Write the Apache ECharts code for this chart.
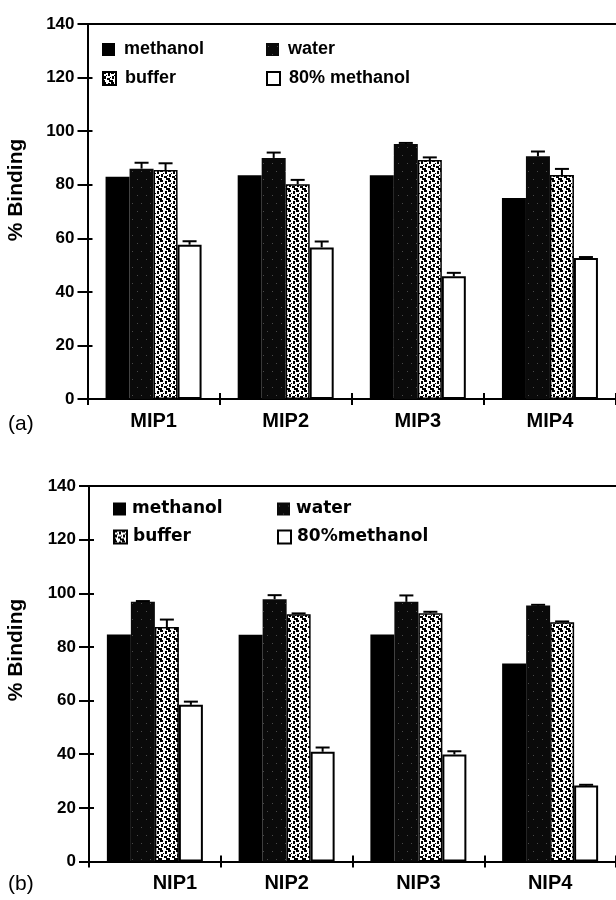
<!DOCTYPE html>
<html>
<head>
<meta charset="utf-8">
<script src="https://cdn.jsdelivr.net/npm/echarts@6/dist/echarts.min.js"></script>
<style>
  html, body { margin: 0; padding: 0; background: #fff; }
  #chart { width: 616px; height: 900px; }
</style>
</head>
<body>
<div id="chart"></div>
<script>
// ---- data: panel (a), imprinted polymers ----
const categoriesA = ['MIP1', 'MIP2', 'MIP3', 'MIP4'];
const methanolA = [83, 83.5, 83.5, 75];
const waterA = [86, 90, 95.2, 90.6];
const bufferA = [85.5, 80.2, 89.2, 83.6];
const methanol80A = [57.6, 56.6, 45.8, 52.6];
const errWaterA = [2.2, 2.0, 0.4, 1.8];
const errBufferA = [2.5, 1.6, 1.0, 2.3];
const errMethanol80A = [1.3, 2.2, 1.3, 0.4];

// ---- data: panel (b), non-imprinted polymers ----
const categoriesB = ['NIP1', 'NIP2', 'NIP3', 'NIP4'];
const methanolB = [84.6, 84.5, 84.6, 73.8];
const waterB = [96.8, 97.8, 96.8, 95.4];
const bufferB = [87.4, 92.2, 92.6, 89.2];
const methanol80B = [58.4, 40.9, 39.9, 28.3];
const errWaterB = [0.3, 1.5, 2.4, 0.3];
const errBufferB = [2.8, 0.3, 0.5, 0.3];
const errMethanol80B = [1.2, 1.6, 1.2, 0.3];

const yTicks = { min: 0, max: 140, interval: 20 };

const FONT = '"Liberation Sans", Arial, Helvetica, sans-serif';
const WIDE_FONT = '"DejaVu Sans", Verdana, sans-serif';
const BAR_W = 24;

// stippled fills for the printed-style bars
function tile(w, h, bg, fg, rects) {
  const c = document.createElement('canvas');
  c.width = w; c.height = h;
  const ctx = c.getContext('2d');
  ctx.fillStyle = bg; ctx.fillRect(0, 0, w, h);
  ctx.fillStyle = fg;
  rects.forEach(r => ctx.fillRect(r[0], r[1], r[2], r[3]));
  return c;
}
const bufferFill = {
  image: tile(8, 10, '#ffffff', '#000000', [
    [0, 0, 3, 2], [5, 1, 2, 3], [1, 4, 2, 3], [4, 6, 3, 2],
    [0, 8, 2, 2], [6, 8, 2, 2], [3, 3, 1, 1], [7, 5, 1, 1]
  ]),
  repeat: 'repeat'
};
const waterFill = {
  image: tile(9, 16, '#0a0a0a', '#4a4a4a', [[2, 3, 1, 1], [6, 11, 1, 1]]),
  repeat: 'repeat'
};

function axesFor(g, cats, labelCfg) {
  const line = { lineStyle: { color: '#000', width: 2 } };
  const x = [
    { gridIndex: g, type: 'category', data: cats, position: 'bottom',
      axisLine: { show: true, ...line }, axisTick: { show: true, length: 6, ...line },
      axisLabel: { interval: 0, color: '#000', fontFamily: FONT, fontWeight: 'bold', fontSize: 20, margin: 12, ...labelCfg } },
    { gridIndex: g, type: 'category', data: cats, position: 'bottom',
      axisLine: { show: false }, axisTick: { show: true, inside: true, length: 6, ...line },
      axisLabel: { show: false } },
    { gridIndex: g, type: 'category', data: cats, position: 'top',
      axisLine: { show: true, ...line }, axisTick: { show: false }, axisLabel: { show: false } }
  ];
  const y = [
    { gridIndex: g, type: 'value', ...yTicks, position: 'left',
      axisLine: { show: true, ...line }, axisTick: { show: true, length: 10, ...line },
      splitLine: { show: false },
      axisLabel: { color: '#000', fontFamily: FONT, fontWeight: 'bold', fontSize: 17, margin: 13 } },
    { gridIndex: g, type: 'value', ...yTicks, position: 'left',
      axisLine: { show: false }, axisTick: { show: true, inside: true, length: 5, ...line },
      splitLine: { show: false }, axisLabel: { show: false } }
  ];
  return { x, y };
}

function barSeries(g, name, data, style) {
  return {
    name, type: 'bar', xAxisIndex: g * 3, yAxisIndex: g * 2, data,
    barWidth: BAR_W, barGap: '0%', itemStyle: style, emphasis: { disabled: true }
  };
}

// upper error caps, drawn at the offset of each bar inside its group
function errorSeries(g, values, errs) {
  const pts = [];
  values.forEach((vals, s) => {
    vals.forEach((v, i) => {
      if (errs[s][i] > 0) pts.push([i, v, errs[s][i], s]);
    });
  });
  return {
    type: 'custom', xAxisIndex: g * 3, yAxisIndex: g * 2, data: pts, z: 5, silent: true,
    renderItem: function (params, api) {
      const i = api.value(0), v = api.value(1), e = api.value(2), s = api.value(3);
      const base = api.coord([i, v]);
      const top = api.coord([i, v + e]);
      const cx = base[0] + (s - 1.5) * BAR_W;
      const half = 7;
      const st = { stroke: '#000', lineWidth: 2, fill: null };
      return {
        type: 'group',
        children: [
          { type: 'line', shape: { x1: cx, y1: base[1], x2: cx, y2: top[1] }, style: st },
          { type: 'line', shape: { x1: cx - half, y1: top[1], x2: cx + half, y2: top[1] }, style: st }
        ]
      };
    }
  };
}

const aAxes = axesFor(0, categoriesA, {});
// the first NIP label sits a little right of its group
const bAxes = axesFor(1, categoriesB, {
  formatter: (v, i) => (i === 0 ? '{shift|' + v + '}' : v),
  rich: { shift: { padding: [0, 0, 0, 40], fontFamily: FONT, fontWeight: 'bold', fontSize: 20, color: '#000' } }
});

const blackStyle = { color: '#000' };
const waterStyle = { color: waterFill };
const bufferStyle = { color: bufferFill, borderColor: '#000', borderWidth: 1.5 };
const whiteStyle = { color: '#fff', borderColor: '#000', borderWidth: 2 };

function legendItem(name, left, top, font, size, gap) {
  return {
    data: [name], left, top, orient: 'horizontal', padding: 0,
    itemWidth: 13, itemHeight: 13, icon: 'rect', selectedMode: false,
    textStyle: { color: '#000', fontFamily: font, fontWeight: 'bold', fontSize: size, padding: [0, 0, 0, gap] }
  };
}

const option = {
  backgroundColor: '#fff',
  animation: false,
  grid: [
    { left: 87.5, top: 24, width: 534, height: 375 },
    { left: 89, top: 486, width: 532, height: 375.5 }
  ],
  xAxis: [...aAxes.x, ...bAxes.x],
  yAxis: [...aAxes.y, ...bAxes.y],
  legend: [
    legendItem('methanol', 102, 40.5, FONT, 18, 4),
    legendItem('water', 266, 40.5, FONT, 18, 4),
    legendItem('buffer', 102, 69.5, FONT, 18, 4),
    legendItem('80% methanol', 266, 69.5, FONT, 18, 4),
    legendItem('methanol', 113, 500.5, WIDE_FONT, 17, 1),
    legendItem('water', 277, 500.5, WIDE_FONT, 17, 1),
    legendItem('buffer', 113, 528.5, WIDE_FONT, 17, 1),
    legendItem('80%methanol', 277, 528.5, WIDE_FONT, 17, 1)
  ],
  graphic: [
    { type: 'text', x: 16, y: 190, rotation: Math.PI / 2,
      style: { text: '% Binding', font: 'bold 21px ' + FONT, fill: '#000', align: 'center', verticalAlign: 'middle' } },
    { type: 'text', x: 16, y: 650, rotation: Math.PI / 2,
      style: { text: '% Binding', font: 'bold 21px ' + FONT, fill: '#000', align: 'center', verticalAlign: 'middle' } },
    { type: 'text', x: 8, y: 424,
      style: { text: '(a)', font: '21px ' + FONT, fill: '#000', align: 'left', verticalAlign: 'middle' } },
    { type: 'text', x: 8, y: 884,
      style: { text: '(b)', font: '21px ' + FONT, fill: '#000', align: 'left', verticalAlign: 'middle' } }
  ],
  series: [
    barSeries(0, 'methanol', methanolA, blackStyle),
    barSeries(0, 'water', waterA, waterStyle),
    barSeries(0, 'buffer', bufferA, bufferStyle),
    barSeries(0, '80% methanol', methanol80A, whiteStyle),
    errorSeries(0, [methanolA, waterA, bufferA, methanol80A],
      [[0, 0, 0, 0], errWaterA, errBufferA, errMethanol80A]),
    barSeries(1, 'methanol', methanolB, blackStyle),
    barSeries(1, 'water', waterB, waterStyle),
    barSeries(1, 'buffer', bufferB, bufferStyle),
    barSeries(1, '80%methanol', methanol80B, whiteStyle),
    errorSeries(1, [methanolB, waterB, bufferB, methanol80B],
      [[0, 0, 0, 0], errWaterB, errBufferB, errMethanol80B])
  ]
};

const chart = echarts.init(document.getElementById('chart'), null, { renderer: 'canvas' });
chart.setOption(option);
</script>
</body>
</html>
